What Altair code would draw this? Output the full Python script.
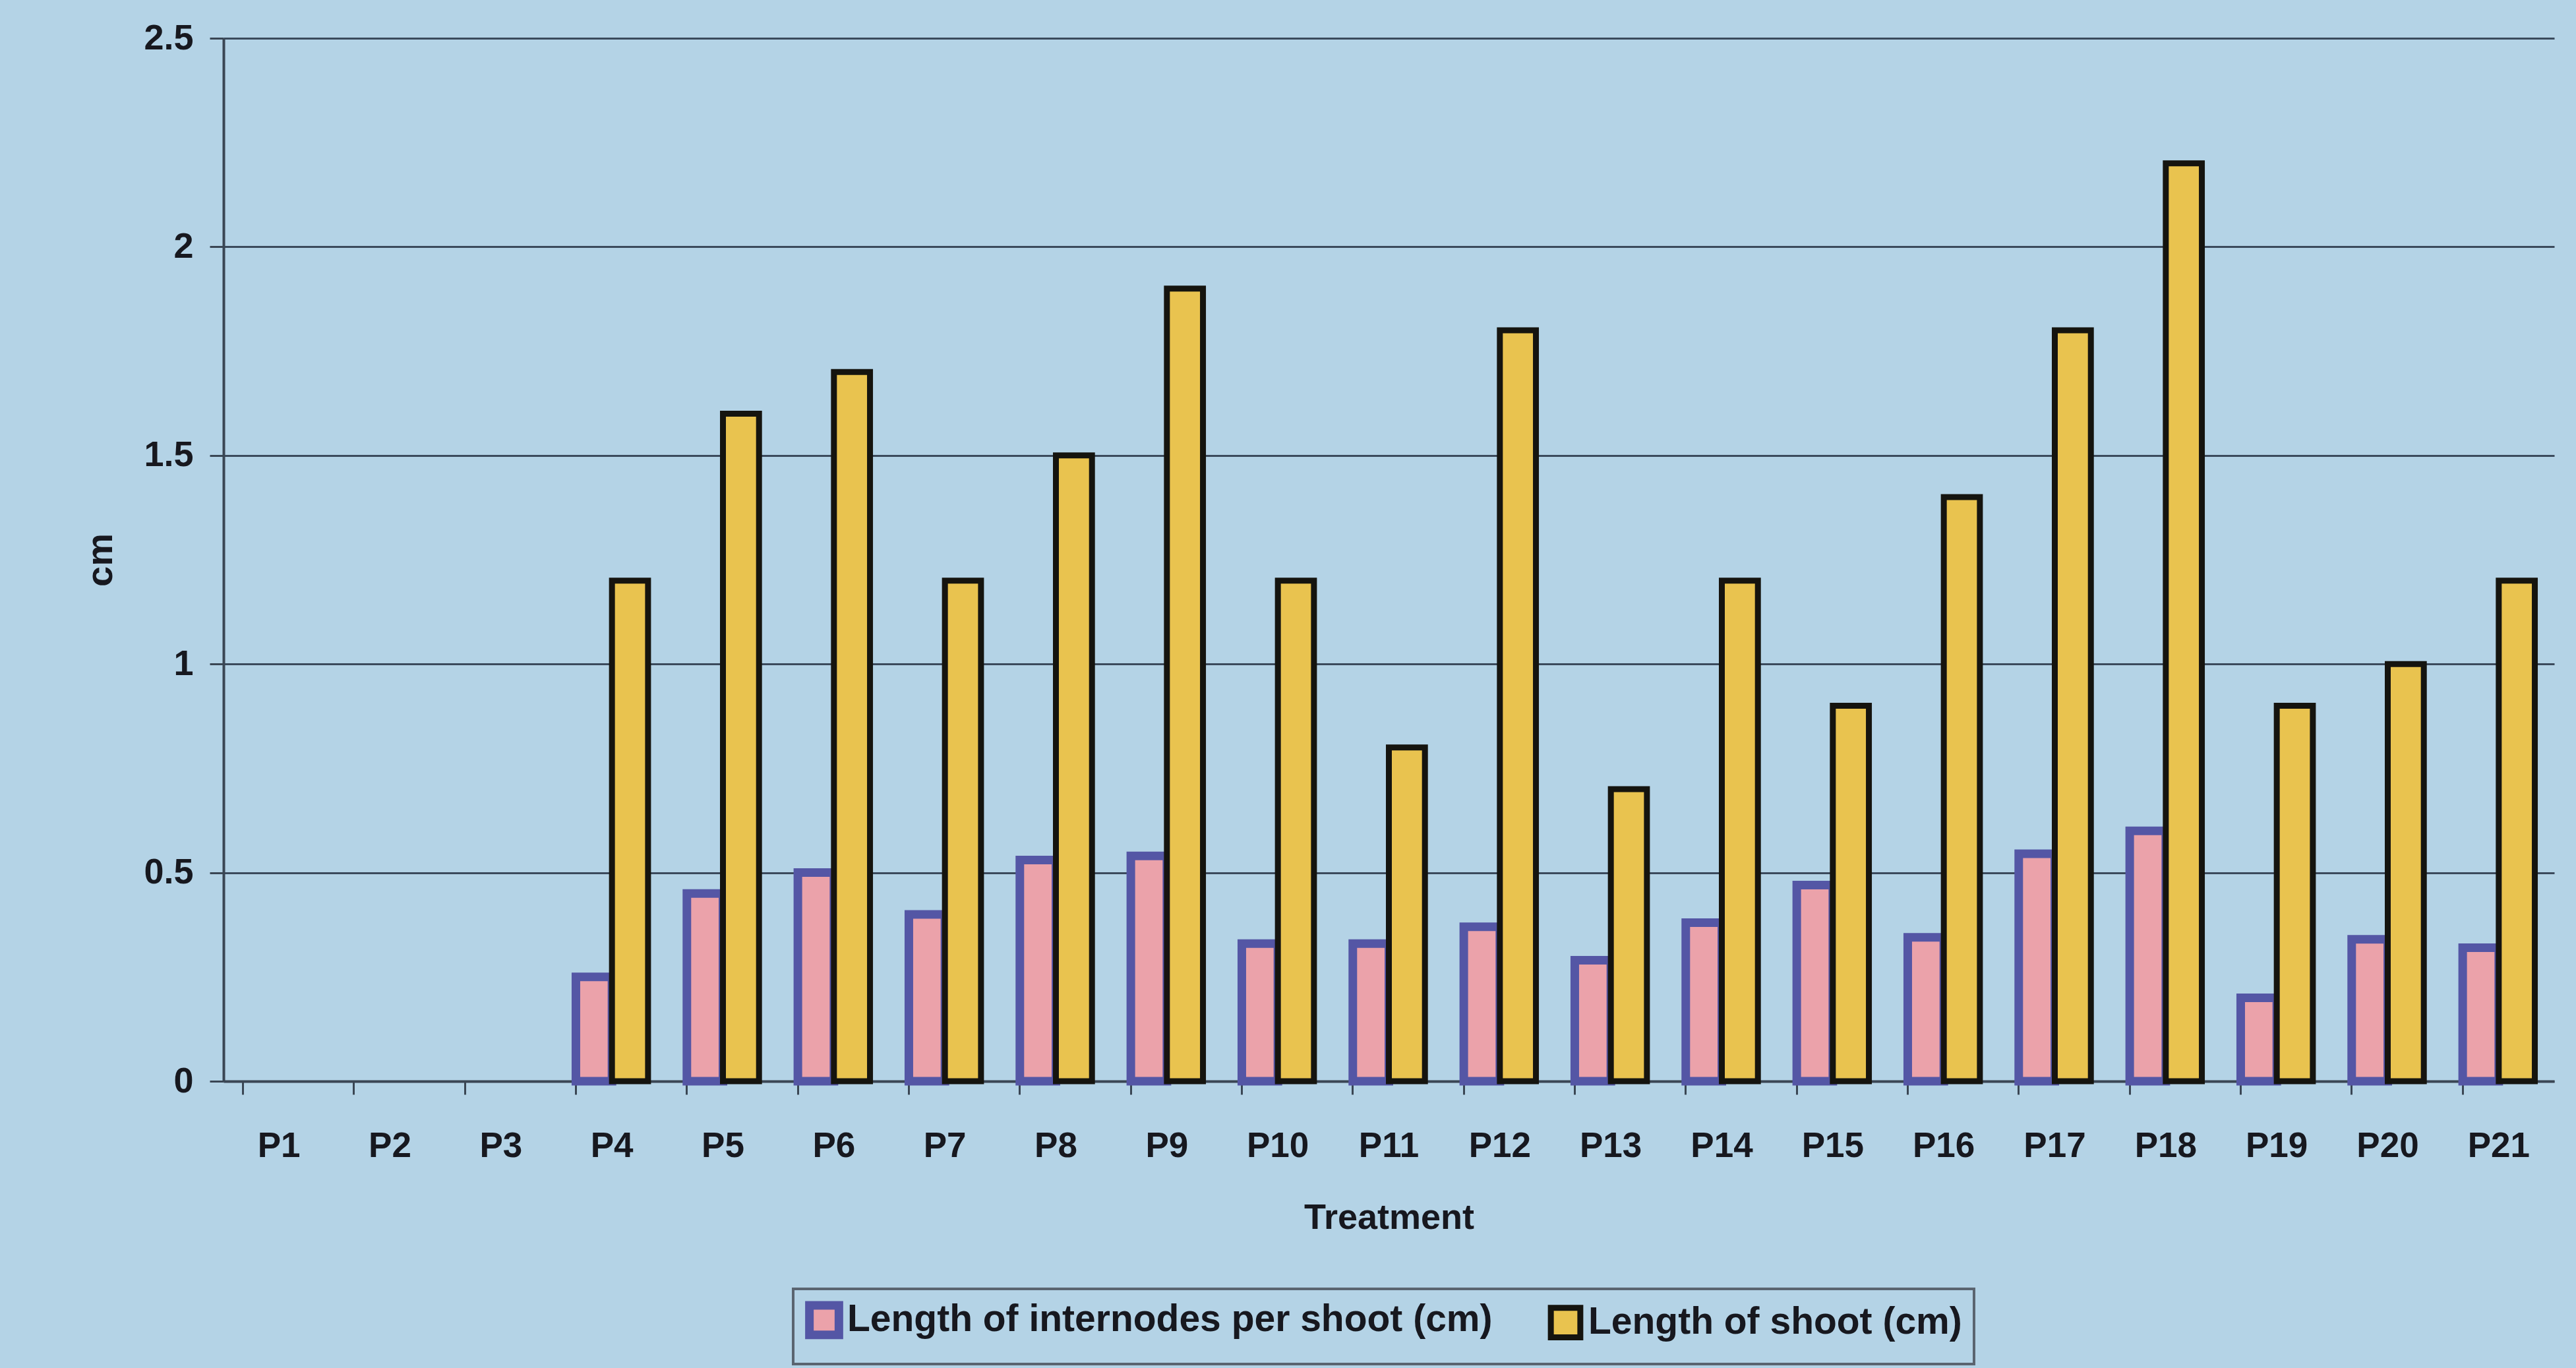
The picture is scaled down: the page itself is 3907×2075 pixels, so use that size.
import altair as alt
import pandas as pd

# Treatments along the x axis
treatments = ["P1", "P2", "P3", "P4", "P5", "P6", "P7", "P8", "P9", "P10", "P11",
              "P12", "P13", "P14", "P15", "P16", "P17", "P18", "P19", "P20", "P21"]

# Series names as shown in the legend
series_names = ["Length of internodes per shoot (cm)", "Length of shoot (cm)"]

# Measured values (cm) per treatment
internode_cm = [0, 0, 0, 0.25, 0.45, 0.50, 0.40, 0.53, 0.54, 0.33, 0.33,
                0.37, 0.29, 0.38, 0.47, 0.345, 0.545, 0.60, 0.20, 0.34, 0.32]
shoot_cm = [0, 0, 0, 1.2, 1.6, 1.7, 1.2, 1.5, 1.9, 1.2, 0.8,
            1.8, 0.7, 1.2, 0.9, 1.4, 1.8, 2.2, 0.9, 1.0, 1.2]

y_ticks = [0, 0.5, 1, 1.5, 2, 2.5]

rows = []
for t, a, b in zip(treatments, internode_cm, shoot_cm):
    rows.append({"Treatment": t, "Series": series_names[0], "value": a})
    rows.append({"Treatment": t, "Series": series_names[1], "value": b})
df = pd.DataFrame(rows)

FONT = "Liberation Sans"
INK = "#17181f"
BG = "#b4d3e6"

fills = ["#eba2aa", "#e9c34f"]
strokes = ["#5456a5", "#15140f"]
stroke_widths = [13, 9]

PLOT_W = 3535
PLOT_H = 1582

bars = (
    alt.Chart(df)
    .transform_filter("datum.value > 0")
    .mark_bar(strokeJoin="miter")
    .encode(
        x=alt.X(
            "Treatment:N",
            sort=treatments,
            scale=alt.Scale(domain=treatments, paddingInner=0.35, paddingOuter=0.175),
            axis=alt.Axis(
                title="Treatment",
                labelAngle=0,
                bandPosition=0,
                ticks=True,
                tickSize=20,
                tickWidth=3,
                tickColor="#3a4654",
                domainColor="#3a4654",
                domainWidth=4,
                labelFont=FONT,
                labelFontSize=53,
                labelFontWeight="bold",
                labelColor=INK,
                labelBaseline="middle",
                labelPadding=78,
                titleFont=FONT,
                titleFontSize=54,
                titleFontWeight="bold",
                titleColor=INK,
                titleBaseline="middle",
                titleY=207,
                grid=False,
            ),
        ),
        xOffset=alt.XOffset("Series:N", sort=series_names,
                            scale=alt.Scale(domain=series_names,
                                            paddingInner=0, paddingOuter=0)),
        y=alt.Y(
            "value:Q",
            scale=alt.Scale(domain=[0, 2.5], nice=False),
            axis=alt.Axis(
                title="cm",
                values=y_ticks,
                labelExpr="datum.value + ''",
                tickSize=21,
                tickWidth=3,
                tickColor="#3a4654",
                domainColor="#3a4654",
                domainWidth=4,
                labelFont=FONT,
                labelFontSize=54,
                labelFontWeight="bold",
                labelColor=INK,
                labelBaseline="middle",
                labelPadding=25,
                titleFont=FONT,
                titleFontSize=56,
                titleFontWeight="bold",
                titleColor=INK,
                titleAngle=-90,
                titleBaseline="middle",
                titleX=-187,
                titleY=PLOT_H / 2,
                grid=True,
                gridColor="#3b4a5c",
                gridWidth=3,
            ),
        ),
        color=alt.Color(
            "Series:N",
            sort=series_names,
            scale=alt.Scale(domain=series_names, range=fills),
            legend=alt.Legend(
                title=None,
                orient="none",
                direction="horizontal",
                legendX=864,
                legendY=1897,
                symbolType="square",
                symbolSize=2000,
                symbolStrokeWidth=11,
                symbolOpacity=1,
                labelFont=FONT,
                labelFontSize=57,
                labelFontWeight="bold",
                labelColor=INK,
                labelOffset=6,
                columnPadding=70,
                padding=18,
                strokeColor="#5a6470",
                labelLimit=2000,
            ),
        ),
        stroke=alt.Stroke(
            "Series:N",
            sort=series_names,
            scale=alt.Scale(domain=series_names, range=strokes),
            legend=None,
        ),
        strokeWidth=alt.StrokeWidth(
            "Series:N",
            sort=series_names,
            scale=alt.Scale(domain=series_names, range=stroke_widths),
            legend=None,
        ),
    )
)

chart = (
    bars.properties(
        width=PLOT_W,
        height=PLOT_H,
        background=BG,
        padding={"left": 339, "top": 58, "right": 33, "bottom": 435},
        autosize=alt.AutoSizeParams(type="none"),
    )
    .configure_view(stroke=None, fill=BG)
    .configure_legend(strokeWidth=4)
)

chart.save("out.html", embed_options={"renderer": "svg", "actions": False})
